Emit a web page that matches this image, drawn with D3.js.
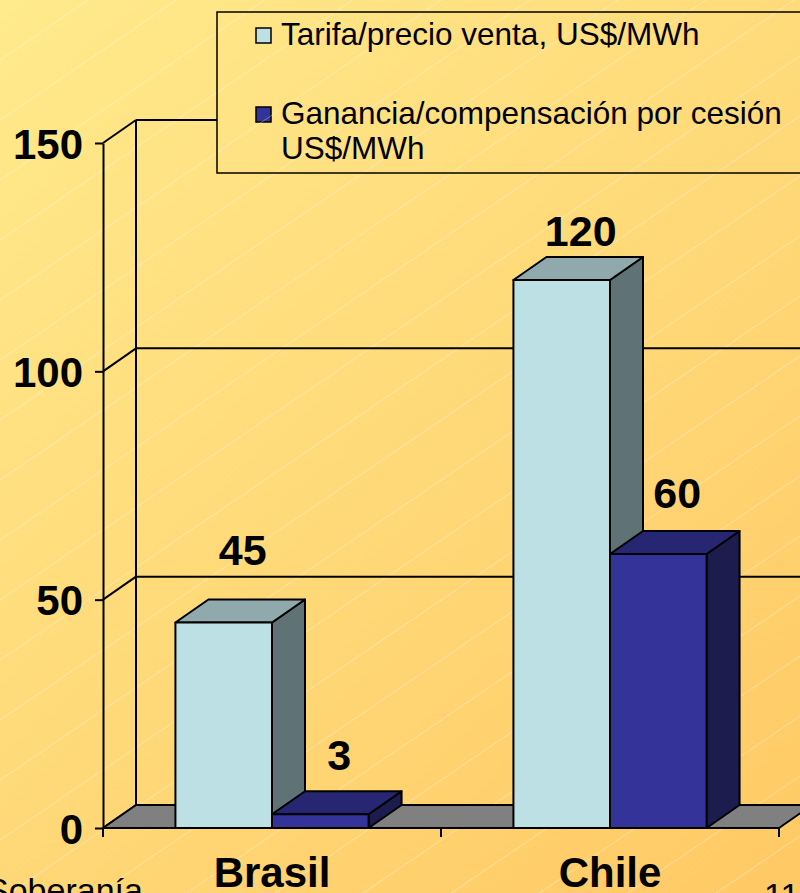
<!DOCTYPE html>
<html><head><meta charset="utf-8">
<script src="https://cdn.jsdelivr.net/npm/d3@7/dist/d3.min.js"></script>
<style>html,body{margin:0;padding:0;background:#fff;}svg{display:block;}</style>
</head><body>
<script>
// ---- data ----
const categories = ["Brasil", "Chile"];
const seriesNames = ["Tarifa/precio venta, US$/MWh", "Ganancia/compensación por cesión US$/MWh"];
const tarifa = [45, 120];
const ganancia = [3, 60];
const yTicks = [0, 50, 100, 150];

// ---- layout ----
const W = 800, H = 893;
const DX = 33, DY = -23;           // 3D depth offset
const labelDy = [[58, 44], [34, 46]]; // label baseline distance above bar front top (per category/series)
const frontLight = "#BCE0E4", topLight = "#8FA9AD", sideLight = "#5F7275";
const frontDark = "#333399", topDark = "#262672", sideDark = "#1C1C4E";
const fills = [[frontLight, topLight, sideLight], [frontDark, topDark, sideDark]];
const FONT = "Liberation Sans, Arial, sans-serif";

const svg = d3.select("body").append("svg").attr("width", W).attr("height", H);
const defs = svg.append("defs");
const g0 = defs.append("linearGradient").attr("id", "bg").attr("gradientUnits", "userSpaceOnUse")
  .attr("x1", 0).attr("y1", 0).attr("x2", W).attr("y2", H);
g0.append("stop").attr("offset", 0).attr("stop-color", "#FFEA8C");
g0.append("stop").attr("offset", 1).attr("stop-color", "#FFC965");
svg.append("rect").attr("width", W).attr("height", H).attr("fill", "url(#bg)");

// faint diagonal sheen lines
function sheenLines(parent) {
  for (let k = -20; k < 40; k++) {
    const y0 = k * 60;
    parent.append("line").attr("x1", 0).attr("y1", y0).attr("x2", W).attr("y2", y0 - W * 0.68);
  }
}
sheenLines(svg.append("g").attr("stroke", "#ffffff").attr("stroke-opacity", 0.35).attr("stroke-width", 1));

const y = d3.scaleLinear().domain([0, 150]).range([828, 143]);
const x0 = d3.scaleBand().domain(categories).range([103, 779]).padding(0);
const x1 = d3.scaleBand().domain([0, 1]).range([0, x0.bandwidth()]).paddingInner(0).paddingOuter(0.75);
const xL = x0.range()[0], xR = x0.range()[1];

const frame = svg.append("g").attr("stroke", "#000").attr("stroke-width", 2).attr("fill", "none");
// back wall gridlines and left back edge
yTicks.forEach(t => {
  frame.append("line").attr("x1", xL + DX).attr("x2", xR + DX).attr("y1", y(t) + DY).attr("y2", y(t) + DY);
  frame.append("line").attr("x1", xL).attr("x2", xL + DX).attr("y1", y(t)).attr("y2", y(t) + DY);
});
frame.append("line").attr("x1", xL + DX).attr("x2", xL + DX).attr("y1", y(150) + DY).attr("y2", y(0) + DY);
// floor
svg.append("path")
  .attr("d", `M${xL},${y(0)}L${xL + DX},${y(0) + DY}L${xR + DX},${y(0) + DY}L${xR},${y(0)}Z`)
  .attr("fill", "#808080").attr("stroke", "#000").attr("stroke-width", 2).attr("stroke-linejoin", "round");

// y axis
const yAxis = d3.axisLeft(y).tickValues(yTicks).tickSize(8).tickSizeOuter(0).tickPadding(12);
const ya = svg.append("g").attr("transform", `translate(${xL},0)`).call(yAxis);
ya.select(".domain").attr("stroke", "#000").attr("stroke-width", 2);
ya.selectAll(".tick line").attr("stroke", "#000").attr("stroke-width", 2);
ya.selectAll(".tick text").attr("font-family", FONT)
  .attr("font-weight", "bold").attr("font-size", 42).attr("fill", "#000").attr("dy", "0.36em");

// x axis
svg.append("line").attr("x1", xL).attr("x2", xR).attr("y1", y(0)).attr("y2", y(0))
  .attr("stroke", "#000").attr("stroke-width", 2);
const bounds = [xL].concat(categories.map(c => x0(c) + x0.bandwidth()));
svg.selectAll(".xt").data(bounds).enter().append("line")
  .attr("x1", d => d).attr("x2", d => d).attr("y1", y(0)).attr("y2", y(0) + 9)
  .attr("stroke", "#000").attr("stroke-width", 2);

// bars
const bars = [];
categories.forEach((c, i) => {
  [tarifa[i], ganancia[i]].forEach((v, s) => bars.push({ c, i, s, v }));
});
const bg = svg.append("g").attr("stroke", "#000").attr("stroke-width", 2).attr("stroke-linejoin", "round");
bars.forEach(b => {
  const xa = x0(b.c) + x1(b.s), xb = xa + x1.bandwidth();
  const yt = y(b.v), yb = y(0);
  const f = fills[b.s];
  bg.append("path").attr("d", `M${xb},${yb}L${xb + DX},${yb + DY}L${xb + DX},${yt + DY}L${xb},${yt}Z`).attr("fill", f[2]);
  bg.append("path").attr("d", `M${xa},${yt}L${xa + DX},${yt + DY}L${xb + DX},${yt + DY}L${xb},${yt}Z`).attr("fill", f[1]);
  bg.append("rect").attr("x", xa).attr("y", yt).attr("width", xb - xa).attr("height", yb - yt).attr("fill", f[0]);
});
// value labels
svg.selectAll(".vl").data(bars).enter().append("text")
  .attr("x", d => x0(d.c) + x1(d.s) + x1.bandwidth() / 2 + 19)
  .attr("y", d => y(d.v) - labelDy[d.i][d.s])
  .attr("text-anchor", "middle").attr("font-family", FONT)
  .attr("font-weight", "bold").attr("font-size", 43).text(d => d.v);

// category labels
svg.selectAll(".cl").data(categories).enter().append("text")
  .attr("x", d => x0(d) + x0.bandwidth() / 2).attr("y", 887)
  .attr("text-anchor", "middle").attr("font-family", FONT)
  .attr("font-weight", "bold").attr("font-size", 42).text(d => d);

// legend
const lg = svg.append("g");
lg.append("rect").attr("x", 217).attr("y", 12).attr("width", 620).attr("height", 161)
  .attr("fill", "url(#bg)").attr("stroke", "#000").attr("stroke-width", 1.5);
defs.append("clipPath").attr("id", "lgclip").append("rect").attr("x", 218).attr("y", 13).attr("width", 620).attr("height", 159);
sheenLines(svg.append("g").attr("stroke", "#fff").attr("stroke-opacity", 0.35).attr("stroke-width", 1)
  .attr("clip-path", "url(#lgclip)"));
const legendRows = [
  { s: 0, lines: ["Tarifa/precio venta, US$/MWh"], y: 45 },
  { s: 1, lines: ["Ganancia/compensación por cesión", "US$/MWh"], y: 124 }
];
legendRows.forEach(r => {
  lg.append("rect").attr("x", 256).attr("y", r.y - 17).attr("width", 15).attr("height", 15)
    .attr("fill", fills[r.s][0]).attr("stroke", "#000").attr("stroke-width", 1.5);
  r.lines.forEach((t, j) => {
    svg.append("text").attr("x", 281).attr("y", r.y + j * 35)
      .attr("font-family", FONT).attr("font-size", 31.5).attr("fill", "#000").text(t);
  });
});

// slide fragments at bottom (cut off by the frame, as in the source)
svg.append("text").attr("x", -14).attr("y", 902).attr("font-family", FONT)
  .attr("font-size", 34).text("Soberanía");
svg.append("text").attr("x", 764).attr("y", 907).attr("font-family", FONT)
  .attr("font-size", 34).text("11");
</script>
</body></html>
